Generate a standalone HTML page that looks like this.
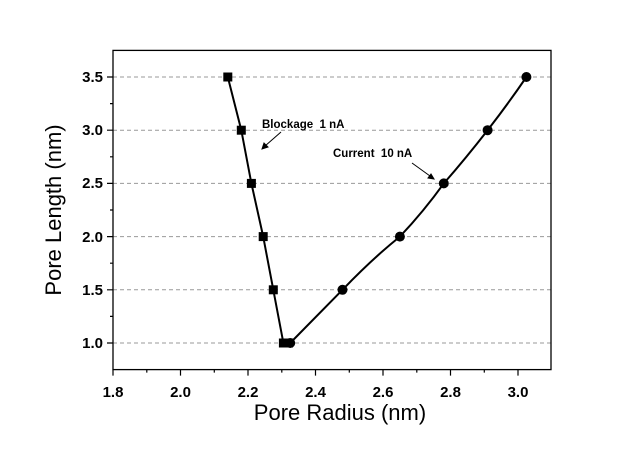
<!DOCTYPE html><html><head><style>body{margin:0;background:#fff}</style></head><body>
<svg width="632" height="444" xmlns="http://www.w3.org/2000/svg" font-family="Liberation Sans, sans-serif">
<g stroke="#999" stroke-dasharray="4,3" stroke-width="1">
<line x1="113" x2="551" y1="77" y2="77"/><line x1="113" x2="551" y1="130.2" y2="130.2"/><line x1="113" x2="551" y1="183.4" y2="183.4"/><line x1="113" x2="551" y1="236.6" y2="236.6"/><line x1="113" x2="551" y1="289.8" y2="289.8"/><line x1="113" x2="551" y1="343" y2="343"/>
</g>
<rect x="113" y="50.4" width="438" height="319.2" fill="none" stroke="#000" stroke-width="1.3"/>
<g stroke="#000" stroke-width="1.2">
<path d="M113 369.6v6M146.8 369.6v3M180.5 369.6v6M214.3 369.6v3M248 369.6v6M281.8 369.6v3M315.5 369.6v6M349.3 369.6v3M383 369.6v6M416.8 369.6v3M450.5 369.6v6M484.3 369.6v3M518 369.6v6"/>
<path d="M113 77h-6M113 103.6h-3M113 130.2h-6M113 156.8h-3M113 183.4h-6M113 210h-3M113 236.6h-6M113 263.2h-3M113 289.8h-6M113 316.4h-3M113 343h-6"/>
</g>
<g font-size="15" font-weight="bold" text-anchor="middle">
<text x="113" y="397">1.8</text><text x="180.5" y="397">2.0</text><text x="248" y="397">2.2</text><text x="315.5" y="397">2.4</text><text x="383" y="397">2.6</text><text x="450.5" y="397">2.8</text><text x="518" y="397">3.0</text>
</g>
<g font-size="15" font-weight="bold" text-anchor="end">
<text x="103" y="82">3.5</text><text x="103" y="135">3.0</text><text x="103" y="188">2.5</text><text x="103" y="242">2.0</text><text x="103" y="295">1.5</text><text x="103" y="348">1.0</text>
</g>
<text x="340" y="420" font-size="22" text-anchor="middle">Pore Radius (nm)</text>
<text transform="translate(61,210) rotate(-90)" font-size="22" text-anchor="middle">Pore Length (nm)</text>
<polyline fill="none" stroke="#000" stroke-width="2" points="227.8,77 241.3,130.2 251.4,183.4 263.2,236.6 273.3,289.8 283.4,343 288.5,343"/>
<path fill="none" stroke="#000" stroke-width="2" d="M290.2,343 L342.5,289.8 Q372,259 399.9,236.6 Q424,211 443.8,183.4 Q466,158 487.6,130.2 Q508,104 526.4,77"/>
<g fill="#000">
<rect x="223.3" y="72.5" width="9" height="9"/><rect x="236.8" y="125.7" width="9" height="9"/><rect x="246.9" y="178.9" width="9" height="9"/><rect x="258.7" y="232.1" width="9" height="9"/><rect x="268.8" y="285.3" width="9" height="9"/><rect x="278.9" y="338.5" width="9" height="9"/><rect x="284" y="338.5" width="9" height="9"/>
<circle cx="290.2" cy="343" r="5"/><circle cx="342.5" cy="289.8" r="5"/><circle cx="399.9" cy="236.6" r="5"/><circle cx="443.8" cy="183.4" r="5"/><circle cx="487.6" cy="130.2" r="5"/><circle cx="526.4" cy="77" r="5"/>
</g>
<g font-size="11.5" font-weight="bold">
<text x="262" y="128" xml:space="preserve">Blockage  1 nA</text><text x="333" y="157" xml:space="preserve">Current  10 nA</text>
</g>
<g stroke="#000" stroke-width="1" fill="#000">
<line x1="281" y1="132" x2="265" y2="146"/><path d="M262,149 l2,-6 l4,4z"/>
<line x1="412" y1="163" x2="430" y2="176"/><path d="M434,179 l-6,-1 l3,-4z"/>
</g>
</svg>
</body></html>
